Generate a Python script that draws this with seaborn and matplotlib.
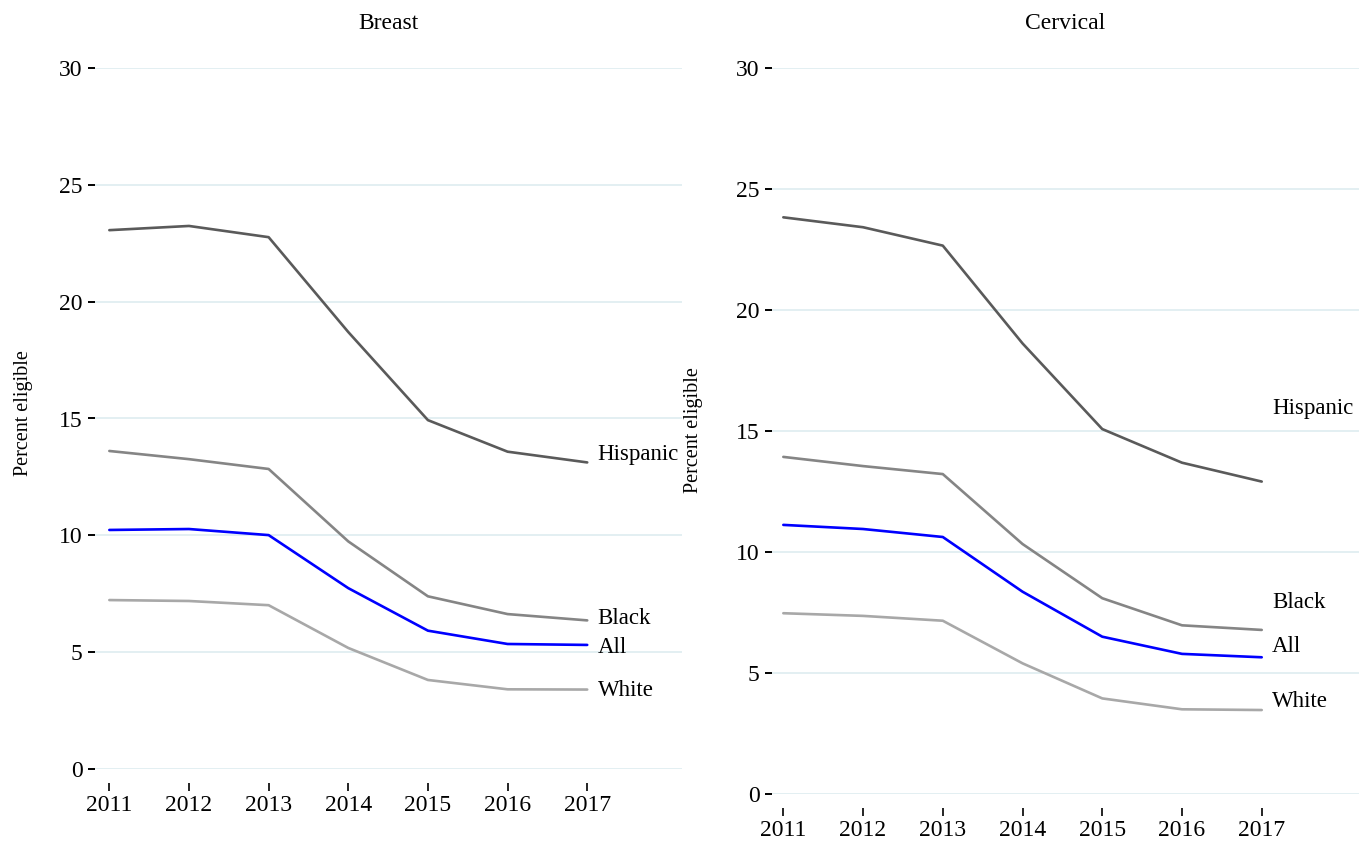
import matplotlib
matplotlib.use("Agg")
import matplotlib.pyplot as plt
import pandas as pd
import seaborn as sns

# Percent of women eligible, by screening type and group
years = [2011, 2012, 2013, 2014, 2015, 2016, 2017]
groups = ["Hispanic", "Black", "All", "White"]

breast_hispanic = [23.06, 23.24, 22.76, 18.70, 14.93, 13.58, 13.12]
breast_black = [13.61, 13.26, 12.84, 9.74, 7.39, 6.63, 6.36]
breast_all = [10.23, 10.27, 10.01, 7.74, 5.92, 5.35, 5.31]
breast_white = [7.23, 7.19, 7.01, 5.18, 3.81, 3.41, 3.40]

cervical_hispanic = [23.83, 23.42, 22.66, 18.62, 15.08, 13.69, 12.91]
cervical_black = [13.93, 13.55, 13.22, 10.33, 8.09, 6.97, 6.78]
cervical_all = [11.12, 10.95, 10.62, 8.36, 6.50, 5.79, 5.65]
cervical_white = [7.47, 7.36, 7.16, 5.40, 3.95, 3.50, 3.47]

panel_titles = ["Breast", "Cervical"]
y_ticks = [0, 5, 10, 15, 20, 25, 30]
y_label = "Percent eligible"

palette = {"Hispanic": "#5a5a5a", "Black": "#858585", "All": "#0000ff", "White": "#a8a8a8"}


def long_frame(series):
    rows = []
    for g, vals in zip(groups, series):
        for yr, v in zip(years, vals):
            rows.append({"year": yr, "group": g, "pct": v})
    return pd.DataFrame(rows)


breast = long_frame([breast_hispanic, breast_black, breast_all, breast_white])
cervical = long_frame([cervical_hispanic, cervical_black, cervical_all, cervical_white])

sns.set_theme(style="white")
plt.rcParams["font.family"] = ["Liberation Serif", "DejaVu Serif"]
plt.rcParams["text.color"] = "black"
plt.rcParams["axes.labelcolor"] = "black"
plt.rcParams["xtick.color"] = "black"
plt.rcParams["ytick.color"] = "black"

fig = plt.figure(figsize=(13.69, 8.46), dpi=100)
W, H = 1369.0, 846.0


def make_axes(left_px, right_px, top_px, bottom_px):
    return fig.add_axes([left_px / W, 1 - bottom_px / H,
                         (right_px - left_px) / W, (bottom_px - top_px) / H])


ax_b = make_axes(95, 682, 68, 769)
ax_c = make_axes(772, 1359, 68, 794)

# end-of-line label heights (data units) for each panel
label_y = {
    "Breast": {"Hispanic": 13.45, "Black": 6.42, "All": 5.2, "White": 3.36},
    "Cervical": {"Hispanic": 15.95, "Black": 7.9, "All": 6.1, "White": 3.82},
}
ylabel_coords = {"Breast": (-0.106, 0.508), "Cervical": (-0.118, 0.501)}

for ax, df, title, xlim in [
    (ax_b, breast, "Breast", (2010.82, 2018.19)),
    (ax_c, cervical, "Cervical", (2010.858, 2018.22)),
]:
    sns.lineplot(data=df, x="year", y="pct", hue="group", hue_order=groups,
                 palette=palette, linewidth=1.9, legend=False, ax=ax,
                 zorder=3)
    ax.set_xlim(*xlim)
    ax.set_ylim(0, 30)
    ax.set_yticks(y_ticks)
    ax.set_yticklabels([str(t) for t in y_ticks])
    ax.set_xticks(years)
    ax.set_xticklabels([str(y) for y in years])
    ax.grid(axis="y", color="#e3eff2", linewidth=1.4, zorder=0)
    ax.grid(axis="x", visible=False)
    for s in ax.spines.values():
        s.set_visible(False)
    ax.spines["bottom"].set_position(("outward", 10))
    ax.tick_params(axis="y", which="major", left=True, direction="out",
                   length=5, width=1.4, pad=4, labelsize=17, colors="black")
    ax.tick_params(axis="x", which="major", bottom=True, direction="out",
                   length=6, width=1.2, pad=3, labelsize=17, colors="black")
    ax.set_xlabel("")
    ax.set_ylabel(y_label, fontsize=14.5, color="black")
    ax.yaxis.set_label_coords(*ylabel_coords[title])
    ax.set_title(title, fontsize=17, pad=28, color="black")
    for g in groups:
        ax.text(years[-1] + 0.13, label_y[title][g], g, fontsize=16.5,
                ha="left", va="center", color="black")
    ax.set_facecolor("white")

fig.savefig("out.png", dpi=100, facecolor="white")
